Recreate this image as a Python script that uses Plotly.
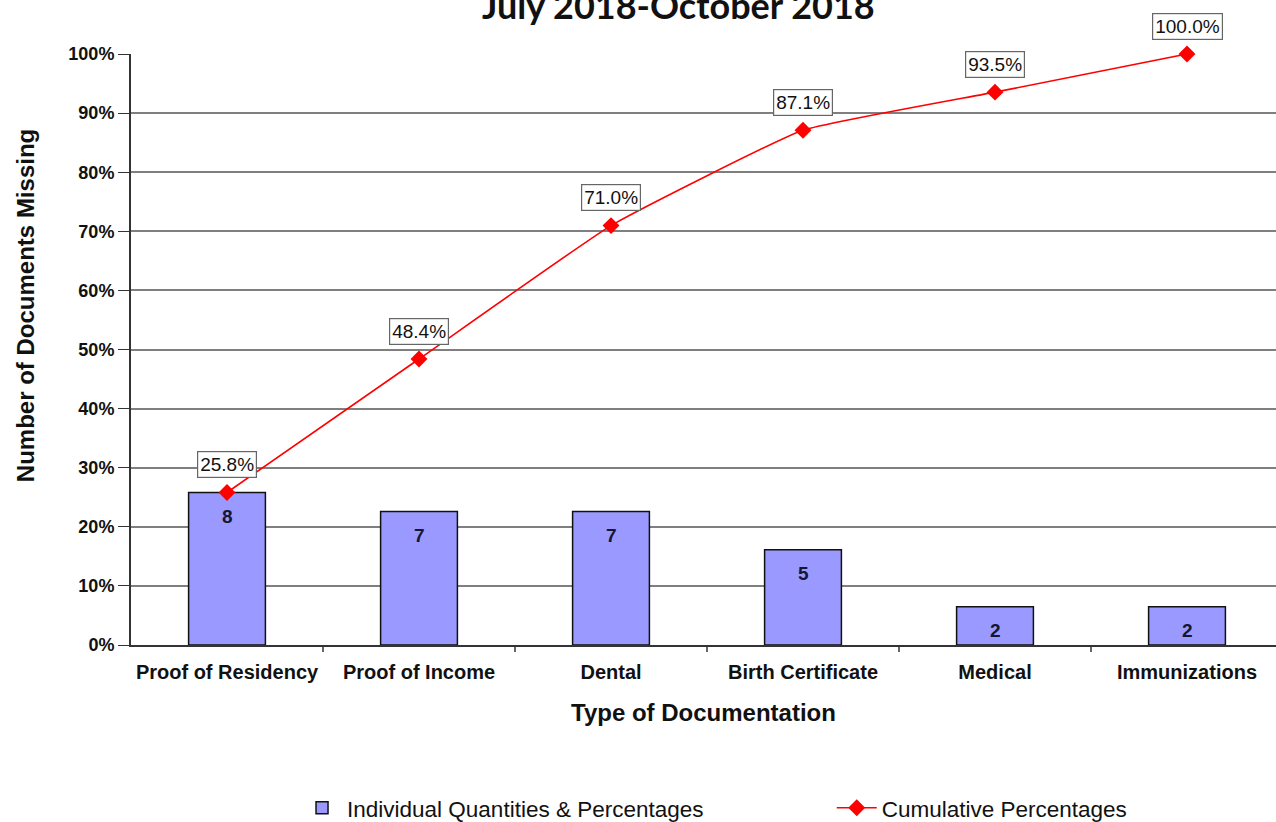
import numpy as np
import plotly.graph_objects as go

# Missing documents by type, July-October 2018
categories = ["Proof of Residency", "Proof of Income", "Dental",
              "Birth Certificate", "Medical", "Immunizations"]
counts = [8, 7, 7, 5, 2, 2]
y_ticks = [0, 10, 20, 30, 40, 50, 60, 70, 80, 90, 100]

total = sum(counts)
share_pct = [c / total * 100 for c in counts]
cumulative_pct = list(np.cumsum(counts) / total * 100)

ARIAL = "Arial, Liberation Sans, sans-serif"

fig = go.Figure()

fig.add_trace(go.Bar(
    x=categories,
    y=share_pct,
    name="Individual Quantities & Percentages",
    width=0.4,
    marker=dict(color="#9999ff", line=dict(color="#111111", width=1.5)),
    legend="legend",
    hoverinfo="skip",
))

fig.add_trace(go.Scatter(
    x=categories,
    y=cumulative_pct,
    name="Cumulative Percentages",
    mode="lines+markers",
    line=dict(color="#ff0000", width=1.6, shape="spline", smoothing=0.35),
    marker=dict(symbol="diamond", size=13, color="#ff0000"),
    cliponaxis=False,
    legend="legend2",
    hoverinfo="skip",
))

# Count labels just inside the top of each bar
for cat, v, c in zip(categories, share_pct, counts):
    fig.add_annotation(
        x=cat, y=v, xref="x", yref="y",
        text=f"<b>{c}</b>",
        showarrow=False,
        yshift=-24,
        font=dict(family=ARIAL, size=19, color="#161633"),
    )

# Boxed value labels above each cumulative point
for cat, v in zip(categories, cumulative_pct):
    fig.add_annotation(
        x=cat, y=v, xref="x", yref="y",
        text=f"{v:.1f}%",
        showarrow=False,
        yshift=28,
        font=dict(family=ARIAL, size=19, color="#111111"),
        bgcolor="white",
        bordercolor="#666666",
        borderwidth=1.2,
        borderpad=2,
    )

# Title line, partly above the page edge
fig.add_annotation(
    x=0.4786, y=1, xref="paper", yref="paper",
    xanchor="center", yanchor="bottom",
    yshift=25,
    text="<b>July 2018-October 2018</b>",
    showarrow=False,
    font=dict(family="Lato, Open Sans, sans-serif", size=36, color="#111111"),
)

# Y axis title, placed a little above the plot's vertical centre
fig.add_annotation(
    x=-0.0926, y=0.575, xref="paper", yref="paper",
    xanchor="center", yanchor="middle",
    textangle=-90,
    text="<b>Number of Documents Missing</b>",
    showarrow=False,
    font=dict(family=ARIAL, size=24, color="#111111"),
)

legend_style = dict(
    orientation="h",
    yanchor="middle",
    y=-0.276,
    font=dict(family=ARIAL, size=22.5, color="#111111"),
    itemwidth=40,
    bgcolor="rgba(0,0,0,0)",
)

fig.update_layout(
    width=1276, height=822,
    margin=dict(l=131, r=0, t=54, b=177, autoexpand=False),
    paper_bgcolor="white",
    plot_bgcolor="white",
    showlegend=True,
    legend=dict(legend_style, x=0.145, xanchor="left"),
    legend2=dict(legend_style, x=0.612, xanchor="left"),
    xaxis=dict(
        range=[-0.5, 5.5 - 7 / 192],
        showline=True, linecolor="#333333", linewidth=1.5,
        ticks="", showgrid=False,
        ticklabelstandoff=8,
        tickfont=dict(family=ARIAL, size=20, color="#111111", weight="bold"),
        title=dict(text="Type of Documentation",
                   font=dict(family=ARIAL, size=24, color="#111111", weight="bold"),
                   standoff=22),
    ),
    yaxis=dict(
        range=[0, 100],
        tickvals=y_ticks,
        ticktext=[f"{t}%" for t in y_ticks],
        showline=True, linecolor="#333333", linewidth=2,
        ticks="outside", ticklen=11, tickcolor="#333333",
        showgrid=True, gridcolor="#7f7f7f", gridwidth=1.5,
        zeroline=False,
        tickfont=dict(family=ARIAL, size=18, color="#111111", weight="bold"),
    ),
)

# Minor tick marks between categories on the x axis
for i in range(1, 6):
    fig.add_shape(
        type="line", xref="x", yref="paper",
        x0=i - 0.5, x1=i - 0.5, y0=0, y1=-0.012,
        line=dict(color="#333333", width=1.5),
    )

fig.write_html("out.html")
